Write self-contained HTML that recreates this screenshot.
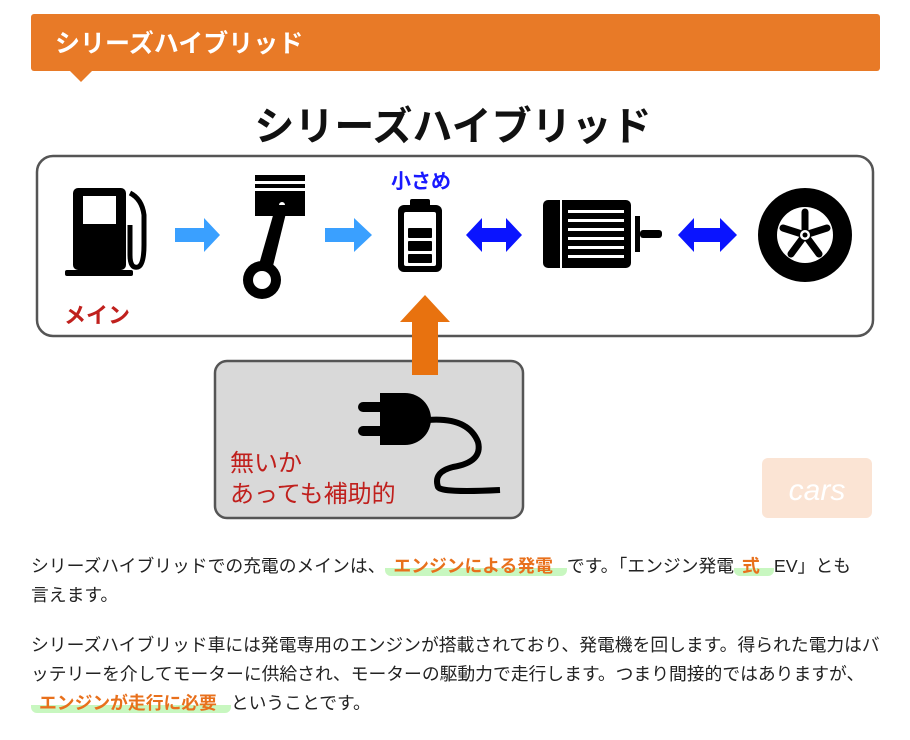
<!DOCTYPE html>
<html><head><meta charset="utf-8"><style>
body{margin:0;width:910px;height:740px;background:#fff;font-family:"Liberation Sans","Noto Sans CJK JP",sans-serif;position:relative;overflow:hidden}
.hdr{position:absolute;left:31px;top:14px;width:849px;height:57px;background:#E87A27;border-radius:3px}
.hdr span{position:absolute;left:24px;top:10px;color:#fff;font-weight:bold;font-size:25px;letter-spacing:0px}
.tri{position:absolute;left:70px;top:71px;width:0;height:0;border-left:11px solid transparent;border-right:11px solid transparent;border-top:11px solid #E87A27}
p{position:absolute;left:31px;margin:0;font-size:17.8px;line-height:29px;color:#222;width:870px;white-space:nowrap}
.hl{color:#E8701C;font-weight:bold;background:linear-gradient(transparent 60%,#c8f7c0 60%);padding:0 14px 0 8px;border-radius:0 0 6px 6px}
svg{position:absolute;left:0;top:0}
</style></head><body>
<div class="hdr"><span>シリーズハイブリッド</span></div>
<div class="tri"></div>
<svg width="910" height="540" viewBox="0 0 910 540">
<text x="453" y="140" text-anchor="middle" font-size="40" font-weight="bold" font-family="Liberation Sans,Noto Sans CJK JP,sans-serif" fill="#111">シリーズハイブリッド</text>
<rect x="37" y="156" width="836" height="180" rx="16" fill="#fff" stroke="#555" stroke-width="2.5"/>
<rect x="73" y="188" width="53" height="82" rx="5" fill="#000"/>
<rect x="83" y="196" width="33" height="28" fill="#fff"/>
<rect x="65" y="270" width="68" height="6" rx="2" fill="#000"/>
<path d="M130 193 q12 6 14 22 l0 30 q0 20 -6 22 q-8 2 -8 -12 l0 -30" fill="none" stroke="#000" stroke-width="5"/>
<polygon points="175,228 204,228 204,218 220,235 204,252 204,242 175,242" fill="#3aa0ff"/>
<polygon points="325,228 354,228 354,218 372,235 354,252 354,242 325,242" fill="#3aa0ff"/>
<rect x="255" y="175" width="50" height="6" fill="#000"/>
<rect x="255" y="184" width="50" height="4" fill="#000"/>
<rect x="255" y="191" width="50" height="25" fill="#000"/>
<circle cx="282" cy="205" r="3" fill="#fff"/>
<polygon points="276,205 288,205 272,270 258,268" fill="#000"/>
<circle cx="262" cy="280" r="19" fill="#000"/>
<circle cx="262" cy="280" r="9" fill="#fff"/>
<text x="421" y="188" text-anchor="middle" font-size="20" font-weight="bold" fill="#1a1aff" font-family="Liberation Sans,Noto Sans CJK JP,sans-serif">小さめ</text>
<rect x="410" y="199" width="20" height="8" rx="2" fill="#000"/>
<rect x="398" y="205" width="44" height="67" rx="6" fill="#000"/>
<rect x="404" y="212" width="32" height="54" rx="2" fill="#fff"/>
<rect x="408" y="228" width="24" height="10" rx="1" fill="#000"/>
<rect x="408" y="241" width="24" height="10" rx="1" fill="#000"/>
<rect x="408" y="254" width="24" height="9" rx="1" fill="#000"/>
<polygon points="466,235 482,218 482,228 506,228 506,218 522,235 506,252 506,242 482,242 482,252" fill="#0a14ff"/>
<polygon points="678,235 694,218 694,228 720,228 720,218 737,235 720,252 720,242 694,242 694,252" fill="#0a14ff"/>
<rect x="543" y="200" width="88" height="68" rx="5" fill="#000"/>
<rect x="560" y="200" width="2" height="68" fill="#fff"/>
<g fill="#fff"><rect x="568" y="210" width="56" height="3"/><rect x="568" y="219" width="56" height="3"/><rect x="568" y="228" width="56" height="3"/><rect x="568" y="237" width="56" height="3"/><rect x="568" y="246" width="56" height="3"/><rect x="568" y="255" width="56" height="3"/></g>
<rect x="635" y="216" width="5" height="36" fill="#000"/>
<rect x="640" y="230" width="22" height="8" rx="3" fill="#000"/>
<circle cx="805" cy="235" r="47" fill="#000"/>
<circle cx="805" cy="235" r="28" fill="#fff"/>
<g stroke="#000" stroke-width="7" stroke-linecap="round"><line x1="805" y1="235" x2="805" y2="212"/><line x1="805" y1="235" x2="827" y2="228"/><line x1="805" y1="235" x2="819" y2="254"/><line x1="805" y1="235" x2="791" y2="254"/><line x1="805" y1="235" x2="783" y2="228"/></g>
<circle cx="805" cy="235" r="5" fill="#fff"/>
<circle cx="805" cy="235" r="2.5" fill="#000"/>
<text x="64" y="323" font-size="22" font-weight="bold" fill="#c0201d" font-family="Liberation Sans,Noto Sans CJK JP,sans-serif">メイン</text>
<rect x="215" y="361" width="308" height="157" rx="12" fill="#d9d9d9" stroke="#555" stroke-width="2.5"/>
<polygon points="412,375 412,322 400,322 425,295 450,322 438,322 438,375" fill="#E8720F"/>
<rect x="358" y="402" width="30" height="10" rx="5" fill="#000"/>
<rect x="358" y="426" width="30" height="10" rx="5" fill="#000"/>
<path d="M380 393 h25 a26 26 0 0 1 0 52 h-25 z" fill="#000"/>
<path d="M428 420 q40 -3 50 22 q5 20 -25 25 q-20 5 -15 20 q3 6 62 3" fill="none" stroke="#000" stroke-width="6"/>
<text x="230" y="471" font-size="24" fill="#c0201d" font-family="Liberation Sans,Noto Sans CJK JP,sans-serif">無いか</text>
<text x="230" y="502" font-size="24" fill="#c0201d" font-family="Liberation Sans,Noto Sans CJK JP,sans-serif">あっても補助的</text>
<rect x="762" y="458" width="110" height="60" rx="6" fill="#fbe4d4"/>
<text x="817" y="500" text-anchor="middle" font-size="30" fill="#fff" font-style="italic">cars</text>
</svg>
<p style="top:552px">シリーズハイブリッドでの充電のメインは、<span class="hl">エンジンによる発電</span>です。「エンジン発電<span class="hl">式</span>EV」とも<br>言えます。</p>
<p style="top:631px">シリーズハイブリッド車には発電専用のエンジンが搭載されており、発電機を回します。得られた電力はバ<br>ッテリーを介してモーターに供給され、モーターの駆動力で走行します。つまり間接的ではありますが、<br><span class="hl">エンジンが走行に必要</span>ということです。</p>
</body></html>
